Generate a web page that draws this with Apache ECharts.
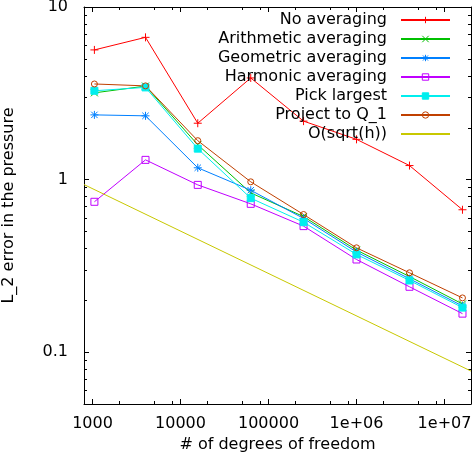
<!DOCTYPE html>
<html>
<head>
<meta charset="utf-8">
<script src="https://cdn.jsdelivr.net/npm/echarts@6/dist/echarts.min.js"></script>
<style>
  html, body { margin: 0; padding: 0; background: #fff; }
  #chart { width: 473px; height: 459px; }
</style>
</head>
<body>
<div id="chart"></div>
<script>
// degrees of freedom on the x axis
const dofs = [1050, 4000, 15700, 62800, 250000, 1000000, 4000000, 16000000];

const noAveraging    = [5.64, 6.67, 2.12, 3.88, 2.18, 1.71, 1.205, 0.668];
const arithmeticAvg  = [3.18, 3.48, 1.59, 0.837, 0.61, 0.39, 0.274, 0.19];
const geometricAvg   = [2.37, 2.34, 1.17, 0.867, 0.595, 0.38, 0.266, 0.185];
const harmonicAvg    = [0.743, 1.30, 0.931, 0.723, 0.537, 0.344, 0.239, 0.167];
const pickLargest    = [3.27, 3.42, 1.51, 0.78, 0.566, 0.368, 0.26, 0.181];
const projectQ1      = [3.58, 3.49, 1.68, 0.97, 0.627, 0.402, 0.288, 0.206];

// reference slope line, end points
const sqrtHx = [800, 20000000];
const sqrtHy = [0.935, 0.0776];

const xMin = 800, xMax = 20000000;
const yMin = 0.05, yMax = 10;

const xTickValues = [1000, 10000, 100000, 1000000, 10000000];
const xTickLabels = ['1000', '10000', '100000', '1e+06', '1e+07'];
const yTickValues = [0.1, 1, 10];
const yTickLabels = ['0.1', '1', '10'];

const xMinorTicks = [2000, 5000, 8000, 20000, 50000, 80000, 200000, 500000, 800000,
                     2000000, 5000000, 8000000];
const yMinorTicks = [0.06, 0.07, 0.08, 0.09, 0.2, 0.3, 0.4, 0.5, 0.6, 0.7, 0.8, 0.9,
                     2, 3, 4, 5, 6, 7, 8, 9];

const FONT = 'DejaVu Sans';

function tickLabel(values, labels) {
    return v => {
        const i = values.findIndex(t => Math.abs(Math.log10(v) - Math.log10(t)) < 1e-6);
        return i >= 0 ? labels[i] : '';
    };
}

function axisCommon(pos) {
    return {
        type: 'log',
        logBase: 10,
        position: pos,
        axisLine: { show: true, onZero: false, lineStyle: { color: '#000', width: 1 } },
        axisTick: { show: true, inside: true, length: 5, lineStyle: { color: '#000' } },
        splitLine: { show: false },
        minorTick: { show: false },
    };
}

function minorTickSeries(values, isX) {
    const L = 3;
    return {
        type: 'custom',
        silent: true,
        clip: false,
        xAxisIndex: 0,
        yAxisIndex: 0,
        data: values.map(v => isX ? [v, yMin] : [xMin, v]),
        renderItem: (params, api) => {
            const v = api.value(isX ? 0 : 1);
            const a = isX ? api.coord([v, yMin]) : api.coord([xMin, v]);
            const b = isX ? api.coord([v, yMax]) : api.coord([xMax, v]);
            const style = { stroke: '#000', lineWidth: 1 };
            if (isX) {
                const x = Math.round(a[0]) + 0.5;
                return { type: 'group', children: [
                    { type: 'line', shape: { x1: x, y1: a[1], x2: x, y2: a[1] - L }, style },
                    { type: 'line', shape: { x1: x, y1: b[1], x2: x, y2: b[1] + L }, style },
                ] };
            }
            const y = Math.round(a[1]) + 0.5;
            return { type: 'group', children: [
                { type: 'line', shape: { x1: a[0], y1: y, x2: a[0] + L, y2: y }, style },
                { type: 'line', shape: { x1: b[0], y1: y, x2: b[0] - L, y2: y }, style },
            ] };
        },
    };
}

const PLUS = 'path://M5,0L5,10M0,5L10,5';
const CROSS = 'path://M0,0L10,10M10,0L0,10';
const STAR = 'path://M5,0L5,10M0,5L10,5M1,1L9,9M9,1L1,9';

function lineSeries(name, ys, color, symbol, size, fill) {
    return {
        name: name,
        type: 'line',
        data: dofs.map((x, i) => [x, ys[i]]),
        symbol: symbol,
        symbolSize: size,
        showAllSymbol: true,
        lineStyle: { color: color, width: 1 },
        itemStyle: { color: fill, borderColor: color, borderWidth: 1 },
        emphasis: { disabled: true },
    };
}

const clear = 'rgba(0,0,0,0)';
const series = [
    minorTickSeries(xMinorTicks, true),
    minorTickSeries(yMinorTicks, false),
    lineSeries('No averaging', noAveraging, '#ff0000', PLUS, 8, '#ff0000'),
    lineSeries('Arithmetic averaging', arithmeticAvg, '#00c000', CROSS, 7, '#00c000'),
    lineSeries('Geometric averaging', geometricAvg, '#0080ff', STAR, 8, '#0080ff'),
    lineSeries('Harmonic averaging', harmonicAvg, '#c000ff', 'rect', 7, clear),
    lineSeries('Pick largest', pickLargest, '#00eeee', 'rect', 7, '#00eeee'),
    lineSeries('Project to Q_1', projectQ1, '#c04000', 'circle', 6, clear),
    {
        name: 'O(sqrt(h))',
        type: 'line',
        data: sqrtHx.map((x, i) => [x, sqrtHy[i]]),
        symbol: 'circle',
        showSymbol: false,
        lineStyle: { color: '#c8c800', width: 1 },
        itemStyle: { color: '#c8c800', opacity: 0 },
        emphasis: { disabled: true },
    },
];

const chart = echarts.init(document.getElementById('chart'));
chart.setOption({
    animation: false,
    backgroundColor: '#fff',
    grid: { left: 84, right: 2, top: 7, bottom: 55, containLabel: false, outerBoundsMode: 'none' },
    legend: {
        data: series.filter(s => s.name).map(s => s.name),
        orient: 'vertical',
        align: 'right',
        right: 22,
        top: 12,
        padding: 0,
        itemWidth: 49,
        itemHeight: 8,
        itemGap: 3,
        selectedMode: false,
        itemStyle: { borderWidth: 1 },
        textStyle: { fontFamily: FONT, fontSize: 16, lineHeight: 16, color: '#000', padding: [0, 9, 0, 0] },
    },
    xAxis: [
        Object.assign(axisCommon('bottom'), {
            min: xMin, max: xMax,
            name: '# of degrees of freedom',
            nameLocation: 'middle',
            nameGap: 32,
            nameTextStyle: { fontFamily: FONT, fontSize: 16, color: '#000' },
            axisLabel: { fontFamily: FONT, fontSize: 16, color: '#000', margin: 12,
                         formatter: tickLabel(xTickValues, xTickLabels) },
        }),
        Object.assign(axisCommon('top'), { min: xMin, max: xMax, axisLabel: { show: false } }),
    ],
    yAxis: [
        Object.assign(axisCommon('left'), {
            min: yMin, max: yMax,
            name: 'L_2 error in the pressure',
            nameLocation: 'middle',
            nameGap: 67,
            nameTextStyle: { fontFamily: FONT, fontSize: 16, color: '#000' },
            axisLabel: { fontFamily: FONT, fontSize: 16, color: '#000', margin: 16,
                         formatter: tickLabel(yTickValues, yTickLabels) },
        }),
        Object.assign(axisCommon('right'), { min: yMin, max: yMax, axisLabel: { show: false } }),
    ],
    series: series,
});
</script>
</body>
</html>
